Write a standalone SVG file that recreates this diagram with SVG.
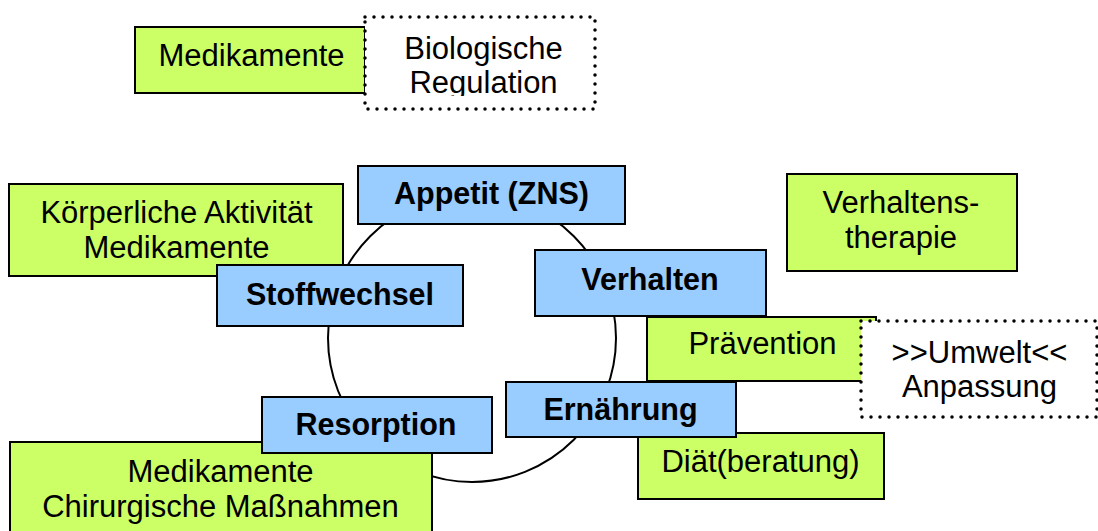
<svg xmlns="http://www.w3.org/2000/svg" width="1098" height="531" viewBox="0 0 1098 531">
<style>
.g{fill:#CCFF66;stroke:#000;stroke-width:2}
.b{fill:#99CCFF;stroke:#000;stroke-width:2}
.d{fill:#fff;stroke:#000;stroke-width:3.5;stroke-dasharray:0 9;stroke-linecap:round}
.t{font-family:"Liberation Sans",Arial,sans-serif;font-size:31px;fill:#000;text-anchor:middle}
.tb{font-family:"Liberation Sans",Arial,sans-serif;font-size:30.5px;font-weight:bold;fill:#000;text-anchor:middle}
</style>
<defs>
<clipPath id="clipBio"><rect x="365" y="17" width="230" height="79"/></clipPath>
</defs>
<rect width="1098" height="531" fill="#fff"/>
<g id="connectors">
<circle cx="472" cy="338" r="144" fill="none" stroke="#000" stroke-width="2"/>
</g>
<g id="medikamente-top">
<rect class="g" x="135" y="27" width="230" height="66"/>
<text class="t" x="251.5" y="66">Medikamente</text>
</g>
<g id="biologische-regulation">
<rect class="d" x="365" y="17" width="230" height="92"/>
<g clip-path="url(#clipBio)">
<text class="t" x="483.5" y="59">Biologische</text>
<text class="t" x="483.5" y="93">Regulation</text>
</g>
</g>
<g id="koerperliche-aktivitaet">
<rect class="g" x="9" y="184" width="334" height="92"/>
<text class="t" x="176.5" y="223">Körperliche Aktivität</text>
<text class="t" x="176.5" y="258">Medikamente</text>
</g>
<g id="stoffwechsel">
<rect class="b" x="217" y="265" width="246" height="61"/>
<text class="tb" x="340" y="305">Stoffwechsel</text>
</g>
<g id="appetit">
<rect class="b" x="358" y="166" width="267" height="58"/>
<text class="tb" x="491.5" y="204">Appetit (ZNS)</text>
</g>
<g id="verhaltenstherapie">
<rect class="g" x="787" y="174" width="230" height="97"/>
<text class="t" x="901" y="213">Verhaltens-</text>
<text class="t" x="901" y="248">therapie</text>
</g>
<g id="verhalten">
<rect class="b" x="535" y="250" width="231" height="66"/>
<text class="tb" x="650" y="290">Verhalten</text>
</g>
<g id="praevention">
<rect class="g" x="647" y="317" width="229" height="64"/>
<text class="t" x="762.5" y="354">Prävention</text>
</g>
<g id="umwelt-anpassung">
<rect class="d" x="861" y="321" width="236" height="96"/>
<text class="t" x="979.5" y="363">&gt;&gt;Umwelt&lt;&lt;</text>
<text class="t" x="979.5" y="397">Anpassung</text>
</g>
<g id="diaet">
<rect class="g" x="638" y="433" width="246" height="66"/>
<text class="t" x="760.5" y="472">Diät(beratung)</text>
</g>
<g id="ernaehrung">
<rect class="b" x="506" y="382" width="230" height="55"/>
<text class="tb" x="620.5" y="420">Ernährung</text>
</g>
<g id="medikamente-chirurgie">
<rect class="g" x="10" y="442" width="422" height="100"/>
<text class="t" x="220.5" y="482">Medikamente</text>
<text class="t" x="220.5" y="517">Chirurgische Maßnahmen</text>
</g>
<g id="resorption">
<rect class="b" x="262" y="397" width="230" height="56"/>
<text class="tb" x="376" y="435">Resorption</text>
</g>
</svg>
